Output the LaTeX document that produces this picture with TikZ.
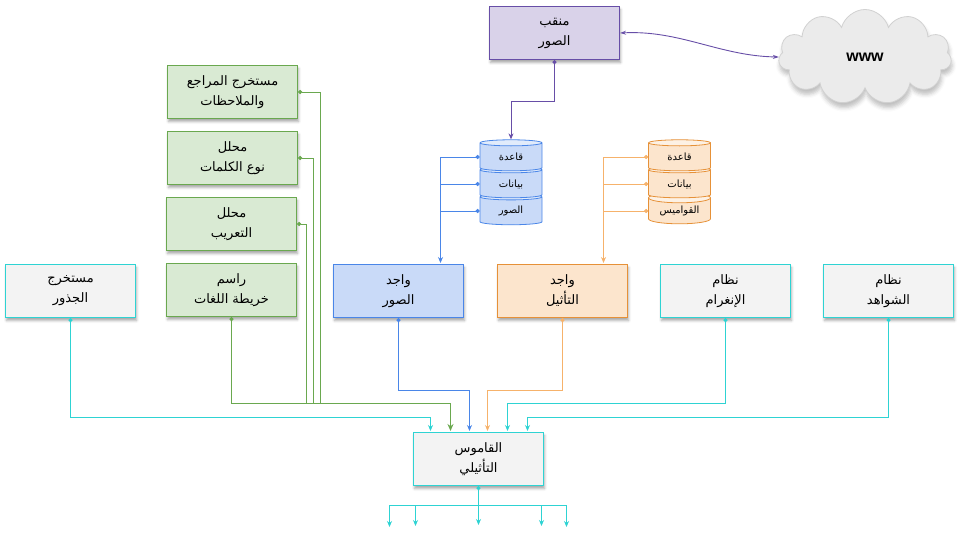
\documentclass[tikz,border=0pt]{standalone}
\usepackage{fontspec}
\usetikzlibrary{arrows.meta}
\usetikzlibrary{shadows.blur}
\usetikzlibrary{shapes.geometric, shapes.symbols}
\TeXXeTstate=1
\newfontfamily\arabicfont[Script=Arabic]{DejaVu Sans}
\newfontfamily\latinfont{Liberation Sans}
\newcommand{\artext}[1]{\beginR #1\endR}
\definecolor{tealline}{HTML}{2ED3D3}
\definecolor{greenline}{HTML}{6AA84F}
\definecolor{greenfill}{HTML}{D9EAD3}
\definecolor{blueline}{HTML}{4A86E8}
\definecolor{bluefill}{HTML}{C9DAF8}
\definecolor{orangeline}{HTML}{F6B26B}
\definecolor{orangeedge}{HTML}{E69138}
\definecolor{orangefill}{HTML}{FCE5CD}
\definecolor{purpleline}{HTML}{674EA7}
\definecolor{purplefill}{HTML}{D9D2E9}
\definecolor{grayfill}{HTML}{F3F3F3}

\begin{document}
\begin{tikzpicture}[x=1pt, y=-1pt,
    box/.style={rectangle, draw, line width=1.15pt, minimum width=130pt, minimum height=53pt, inner sep=0pt, align=center,
      font=\arabicfont\fontsize{13}{20}\selectfont, blur shadow={shadow xshift=1pt, shadow yshift=-3pt, shadow blur radius=2.5pt, shadow opacity=35}},
    greenbox/.style={box, draw=greenline, fill=greenfill},
    graybox/.style={box, draw=tealline, fill=grayfill},
    dbase/.style={cylinder, shape border rotate=90, aspect=0.25, draw, line width=0.8pt, minimum width=62pt, minimum height=31pt, inner sep=0pt,
      cylinder uses custom fill, font=\arabicfont\fontsize{10}{11}\selectfont},
    bluedb/.style={dbase, draw=blueline, cylinder body fill=bluefill, cylinder end fill=bluefill!55!white},
    orangedb/.style={dbase, draw=orangeedge, cylinder body fill=orangefill, cylinder end fill=orangefill!55!white},
    conn/.style={line width=0.9pt, {Circle[length=4pt]}-{Stealth[length=6pt, width=5pt]}},
    spur/.style={line width=0.9pt, {Circle[length=4pt]}-},
    branch/.style={line width=0.9pt, -{Stealth[length=6pt, width=5pt]}}]
  \useasboundingbox (0,0) rectangle (960,540);

  \node[box, draw=purpleline, fill=purplefill] (miner) at (554.5,33) {\artext{منقب}\\\artext{الصور}};

  \node[cloud, cloud puffs=11, aspect=1.8, draw=black!18, fill=black!8, line width=0.8pt, minimum width=173pt, minimum height=95pt, inner sep=0pt,
    blur shadow={shadow xshift=1pt, shadow yshift=-5pt, shadow blur radius=4pt, shadow opacity=25}, font=\latinfont\bfseries\fontsize{16}{18}\selectfont] (web) at (865,57) {www\hspace{14pt}};

  \node[greenbox] (notes) at (232.5,92) {\artext{مستخرج المراجع}\\\artext{والملاحظات}};

  \node[greenbox] (pos) at (232.5,158) {\artext{محلل}\\\artext{نوع الكلمات}};

  \node[greenbox] (arabizer) at (231.5,224) {\artext{محلل}\\\artext{التعريب}};

  \node[greenbox] (langmap) at (231.5,290) {\artext{راسم}\\\artext{خريطة اللغات}};

  \node[graybox] (roots) at (70.5,291) {\artext{مستخرج}\\\artext{الجذور}};

  \node[box, draw=blueline, fill=bluefill] (imgfinder) at (398.5,291) {\artext{واجد}\\\artext{الصور}};

  \node[box, draw=orangeedge, fill=orangefill] (etymfinder) at (562.5,291) {\artext{واجد}\\\artext{التأثيل}};

  \node[graybox] (ngram) at (725.5,291) {\artext{نظام}\\\artext{الإنغرام}};

  \node[graybox] (quotes) at (888.5,291) {\artext{نظام}\\\artext{الشواهد}};

  \node[graybox] (dict) at (478.5,459) {\artext{القاموس}\\\artext{التأثيلي}};

  \node[bluedb] (imgdb3) at (511,211) {\artext{الصور}};
  \node[bluedb] (imgdb2) at (511,184) {\artext{بيانات}};
  \node[bluedb] (imgdb1) at (511,157) {\artext{قاعدة}};

  \node[orangedb] (etymdb3) at (679.5,211) {\artext{القواميس}};
  \node[orangedb] (etymdb2) at (679.5,184) {\artext{بيانات}};
  \node[orangedb] (etymdb1) at (679.5,157) {\artext{قاعدة}};

  \coordinate (imgin) at (440.5,263);
  \coordinate (etymin) at (603.5,263);
  \coordinate (in1) at (430.5,431);
  \coordinate (in2) at (450.5,431);
  \coordinate (in3) at (469.5,431);
  \coordinate (in4) at (487.5,431);
  \coordinate (in5) at (507.5,431);
  \coordinate (in6) at (527.5,431);
  \coordinate (greenjoin) at (306.5,403.5);
  \coordinate (out1) at (389.5,527);
  \coordinate (out2) at (415.5,526);
  \coordinate (out3) at (478.5,525);
  \coordinate (out4) at (541.5,526);
  \coordinate (out5) at (566.5,527);

  \draw[conn, purpleline] (miner.south) -- (554.5,101.5) -| (imgdb1.north);
  \draw[purpleline, line width=0.9pt, {Stealth[length=6pt, width=4pt]}-{Stealth[length=6pt, width=4pt]}] (miner.east) .. controls (680,30) and (720,56) .. (web.west);

  \draw[conn, blueline] (imgdb1.west) -| (imgin);
  \draw[spur, blueline] (imgdb2.west) -- (imgdb2.west -| imgin);
  \draw[spur, blueline] (imgdb3.west) -- (imgdb3.west -| imgin);

  \draw[conn, orangeline] (etymdb1.west) -| (etymin);
  \draw[spur, orangeline] (etymdb2.west) -- (etymdb2.west -| etymin);
  \draw[spur, orangeline] (etymdb3.west) -- (etymdb3.west -| etymin);

  \draw[spur, greenline] (notes.east) -| (320.5,403.5);
  \draw[spur, greenline] (pos.east) -| (313.5,403.5);
  \draw[spur, greenline] (arabizer.east) -| (greenjoin);
  \draw[spur, greenline] (langmap.south) |- (greenjoin);
  \draw[greenline, line width=1.8pt, -{Stealth[length=7pt, width=6pt]}] (greenjoin) -| (in2);

  \draw[conn, tealline] (roots.south) |- (430.5,417.5) -- (in1);
  \draw[conn, blueline] (imgfinder.south) |- (469.5,390.5) -- (in3);
  \draw[conn, orangeline] (etymfinder.south) |- (487.5,390.5) -- (in4);
  \draw[conn, tealline] (ngram.south) |- (507.5,403.5) -- (in5);
  \draw[conn, tealline] (quotes.south) |- (527.5,417.5) -- (in6);

  \draw[conn, tealline] (dict.south) -- (out3);
  \draw[branch, tealline] (478.5,505.5) -| (out1);
  \draw[branch, tealline] (415.5,505.5) -- (out2);
  \draw[branch, tealline] (478.5,505.5) -| (out5);
  \draw[branch, tealline] (541.5,505.5) -- (out4);
\end{tikzpicture}
\end{document}
